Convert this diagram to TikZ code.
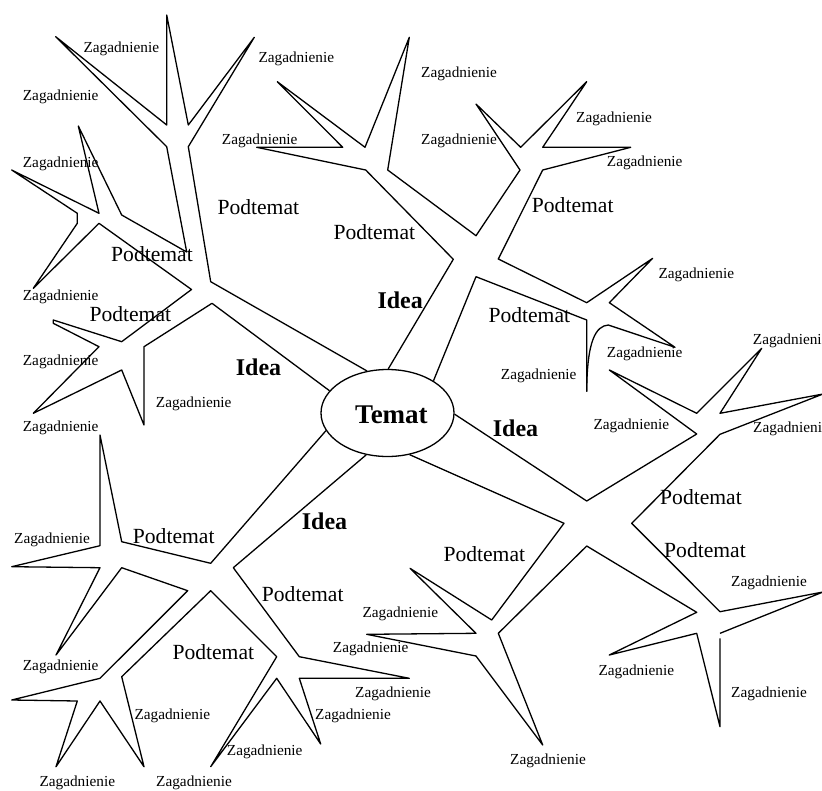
\documentclass[tikz,border=0pt]{standalone}
\usepackage{fontspec}
\setmainfont{Liberation Serif}
\usetikzlibrary{shapes.geometric}
\tikzset{
 br/.style={line width=1.3pt, line join=round},
 zag/.style={font=\fontsize{15.3}{18}\selectfont, anchor=base west, inner sep=0pt},
 pod/.style={font=\fontsize{21.6}{26}\selectfont, anchor=base west, inner sep=0pt},
 idea/.style={font=\bfseries\fontsize{24}{28}\selectfont, anchor=base west, inner sep=0pt},
 temat/.style={font=\bfseries\fontsize{27}{32}\selectfont, anchor=base west, inner sep=0pt},
}
\begin{document}
\begin{tikzpicture}[x=1pt,y=-1pt]
\useasboundingbox (0,0) rectangle (822,790);
\clip (0,0) rectangle (822,790);
\node[ellipse, draw, line width=1.3pt, minimum width=133pt, minimum height=87pt, inner sep=0pt] (T) at (387.5,413) {};
\node[temat] (tt) at (355,423.3) {Temat};

% upper-left idea
\draw[br] (T.116.7) -- (210.7,281.7) -- (188.3,146.7) -- (254.3,37.3) -- (188.3,125) -- (166.7,15) -- (166.7,125) -- (55.7,36.7) -- (166.7,146.7) -- (186.7,252) -- (121.7,215) -- (78.3,126) -- (99,213.3) -- (11.7,170) -- (77.3,213.3) -- (77.3,223.3) -- (33.3,288.3) -- (99,223.3) -- (191.5,289.5) -- (121.7,341.7) -- (53.3,320) -- (53.3,323.3) -- (99,346.7) -- (33.3,413.3) -- (121.7,370) -- (144,425) -- (144,346.7) -- (212,303.3) -- (T.159.8);

% top idea
\draw[br] (T.89) -- (453.3,259.3) -- (365.7,170) -- (256.7,147.3) -- (342.7,147.3) -- (277.3,81.7) -- (365,147.3) -- (409.3,37.3) -- (387.7,170) -- (476,235.7) -- (520,170) -- (476,104) -- (520.7,147.3) -- (586.7,81.7) -- (542.7,147.3) -- (630.7,147.3) -- (542.7,170) -- (498.3,259) -- (586.7,302.7) -- (652.7,258.3) -- (609.3,302.7) -- (675,347.3) -- (608.3,325) .. controls (596,326) and (587,340) .. (586.7,391.7);
\draw[br] (T.35.8) -- (476,276.7) -- (586.7,320) -- (586.7,391.7);

% bottom-right idea
\draw[br] (T.-1.7) -- (586.7,501) -- (696.7,434) -- (609.3,370) -- (696.7,413.3) -- (761.7,348.3) -- (720,413.3) -- (823,394) -- (720,434.3) -- (631.7,523.3) -- (720,611.7) -- (823,592) -- (720,633.3);
\draw[br] (720,638.3) -- (720,726.7) -- (696.7,633.3) -- (609.3,655) -- (696.7,612.3) -- (586.7,546) -- (498.3,633.3) -- (542.7,745) -- (476,656) -- (366.7,634.3) -- (476,633.3) -- (410,568.3) -- (491.7,620) -- (564,523.3) -- (T.-62.8);

% bottom-left idea
\draw[br] (T.196.1) -- (210.7,563.3) -- (121.7,541.7) -- (100,435) -- (100,545.7) -- (11.7,566.7) -- (100,567.7) -- (56,655) -- (121.7,567.7) -- (187.7,590.7) -- (100,678.3) -- (11.7,700) -- (77.3,701) -- (56,766.7) -- (100,701) -- (144,766.7) -- (121.7,676.7) -- (210.7,590.7) -- (276.7,656.7) -- (210.7,766.7) -- (276.7,678.3) -- (320.7,744) -- (299.3,678.3) -- (409.3,678.3) -- (299.3,656.7) -- (233.3,567.7) -- (T.243.1);

% Idea labels
\node[idea] (i1) at (377.3,308.5) {Idea};
\node[idea] (i2) at (235.7,375) {Idea};
\node[idea] (i3) at (492.7,436) {Idea};
\node[idea] (i4) at (301.7,529.3) {Idea};

% Podtemat labels
\node[pod] (p1) at (217.3,214) {Podtemat};
\node[pod] (p2) at (333.3,239) {Podtemat};
\node[pod] (p3) at (531.7,212.7) {Podtemat};
\node[pod] (p4) at (111,261.7) {Podtemat};
\node[pod] (p5) at (89.3,321.7) {Podtemat};
\node[pod] (p6) at (488.3,322.3) {Podtemat};
\node[pod] (p7) at (660,504.3) {Podtemat};
\node[pod] (p8) at (664,557.7) {Podtemat};
\node[pod] (p9) at (443.3,561.7) {Podtemat};
\node[pod] (p10) at (132.7,543.3) {Podtemat};
\node[pod] (p11) at (261.7,601.7) {Podtemat};
\node[pod] (p12) at (172.3,659) {Podtemat};

% Zagadnienie labels
\node[zag] (z1) at (83.3,52.7) {Zagadnienie};
\node[zag] (z2) at (258.3,62.5) {Zagadnienie};
\node[zag] (z3) at (22.7,100.7) {Zagadnienie};
\node[zag] (z4) at (421,77.7) {Zagadnienie};
\node[zag] (z5) at (576,122.3) {Zagadnienie};
\node[zag] (z6) at (221.7,144.3) {Zagadnienie};
\node[zag] (z7) at (421,144.3) {Zagadnienie};
\node[zag] (z8) at (606.7,166.7) {Zagadnienie};
\node[zag] (z9) at (22.7,167.3) {Zagadnienie};
\node[zag] (z10) at (658.3,278) {Zagadnienie};
\node[zag] (z11) at (22.7,300) {Zagadnienie};
\node[zag] (z12) at (752.7,344.5) {Zagadnienie};
\node[zag] (z13) at (606.7,357.5) {Zagadnienie};
\node[zag] (z14) at (22.7,365.7) {Zagadnienie};
\node[zag] (z15) at (500.7,379.3) {Zagadnienie};
\node[zag] (z16) at (155.7,407.3) {Zagadnienie};
\node[zag] (z17) at (593.3,429.3) {Zagadnienie};
\node[zag] (z18) at (753,432) {Zagadnienie};
\node[zag] (z19) at (22.7,431.3) {Zagadnienie};
\node[zag] (z20) at (14,543.3) {Zagadnienie};
\node[zag] (z21) at (362.3,617.3) {Zagadnienie};
\node[zag] (z22) at (731,586.7) {Zagadnienie};
\node[zag] (z23) at (332.7,652.7) {Zagadnienie};
\node[zag] (z24) at (22.7,670.7) {Zagadnienie};
\node[zag] (z25) at (355,697.7) {Zagadnienie};
\node[zag] (z26) at (598.3,675) {Zagadnienie};
\node[zag] (z27) at (731,697.3) {Zagadnienie};
\node[zag] (z28) at (134.3,719.3) {Zagadnienie};
\node[zag] (z29) at (315,719.3) {Zagadnienie};
\node[zag] (z30) at (226.7,755) {Zagadnienie};
\node[zag] (z31) at (510,764) {Zagadnienie};
\node[zag] (z32) at (39.3,786) {Zagadnienie};
\node[zag] (z33) at (156,786) {Zagadnienie};
\end{tikzpicture}
\end{document}
